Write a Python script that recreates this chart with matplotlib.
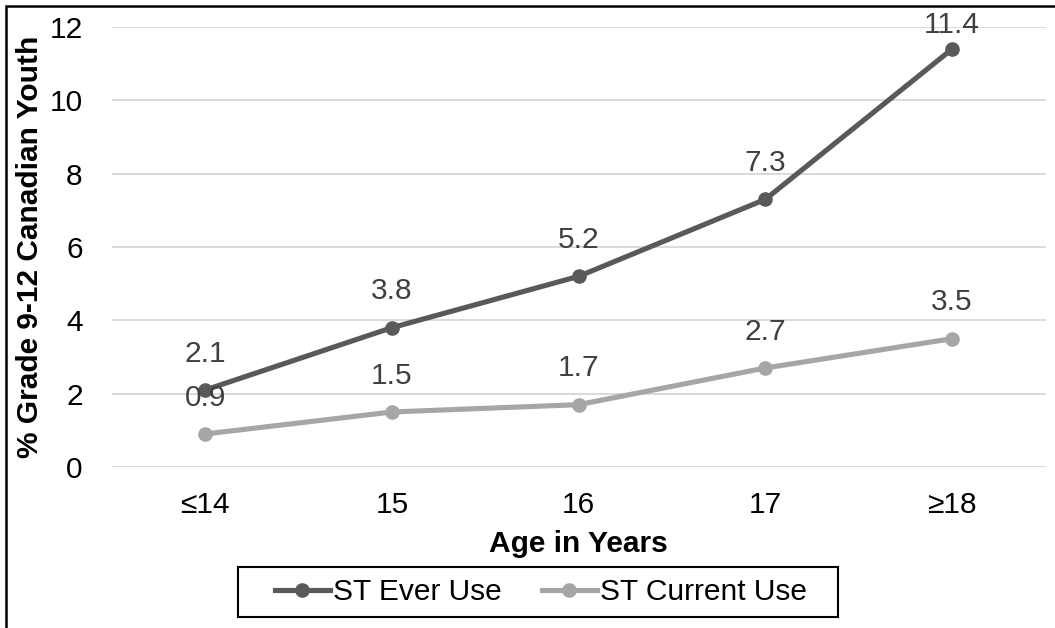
import numpy as np
import matplotlib.pyplot as plt
from matplotlib.patches import Rectangle

plt.rcParams['font.family'] = ['Liberation Sans', 'DejaVu Sans']

ages = ['≤14', '15', '16', '17', '≥18']
ever_use = [2.1, 3.8, 5.2, 7.3, 11.4]
current_use = [0.9, 1.5, 1.7, 2.7, 3.5]
yticks = [0, 2, 4, 6, 8, 10, 12]

dark = '#595959'
light = '#a6a6a6'
text_col = '#404040'
fs = 21.5
W, H = 1055, 628

fig = plt.figure(figsize=(W / 100, H / 100), dpi=100)
ax = fig.add_axes([0.106, 0.2564, 0.885, 0.7006])

x = np.arange(len(ages))
ax.plot(x, ever_use, '-o', color=dark, lw=3.7, ms=9.5, label='ST Ever Use', zorder=3)
ax.plot(x, current_use, '-o', color=light, lw=3.7, ms=9.5, label='ST Current Use', zorder=3)

# value labels above each point (kept inside the plot near the top)
for series in (ever_use, current_use):
    for xi, v in zip(x, series):
        off = 7 if v > 11 else 16
        ax.annotate(f'{v:.1f}', (xi, v), xytext=(0, off), textcoords='offset points',
                    ha='center', va='bottom', fontsize=fs, color=text_col, zorder=4)

ax.set_xlim(-0.5, len(ages) - 0.5)
ax.set_ylim(0, 12)
ax.set_xticks(x)
ax.set_xticklabels(ages)
ax.set_yticks(yticks)
ax.tick_params(axis='both', length=0, labelsize=fs, colors='black')
ax.tick_params(axis='x', pad=17)
ax.tick_params(axis='y', pad=21)
ax.grid(axis='y', color='#d9d9d9', lw=1.4)
ax.set_axisbelow(True)
for s in ax.spines.values():
    s.set_visible(False)

ax.set_xlabel('Age in Years', fontsize=fs, fontweight='bold', labelpad=8)
ax.set_ylabel('% Grade 9-12 Canadian Youth', fontsize=fs, fontweight='bold', labelpad=4)

# legend entries, with a plain box drawn around them
fig.legend(loc='center', bbox_to_anchor=(0.5125, 0.057), ncol=2, fontsize=fs,
           frameon=False, handlelength=1.84, columnspacing=1.34, handletextpad=0.1,
           borderpad=0, borderaxespad=0)
fig.patches.append(Rectangle((238 / W, 1 - 617 / H), 600 / W, 50 / H, transform=fig.transFigure,
                             fill=False, edgecolor='black', lw=1.5))

# outer chart border
fig.patches.append(Rectangle((6 / W, -0.1), 1.2, 1 - 6 / H + 0.1, transform=fig.transFigure,
                             fill=False, edgecolor='black', lw=1.8, clip_on=False))

fig.savefig('out.png', dpi=100)
